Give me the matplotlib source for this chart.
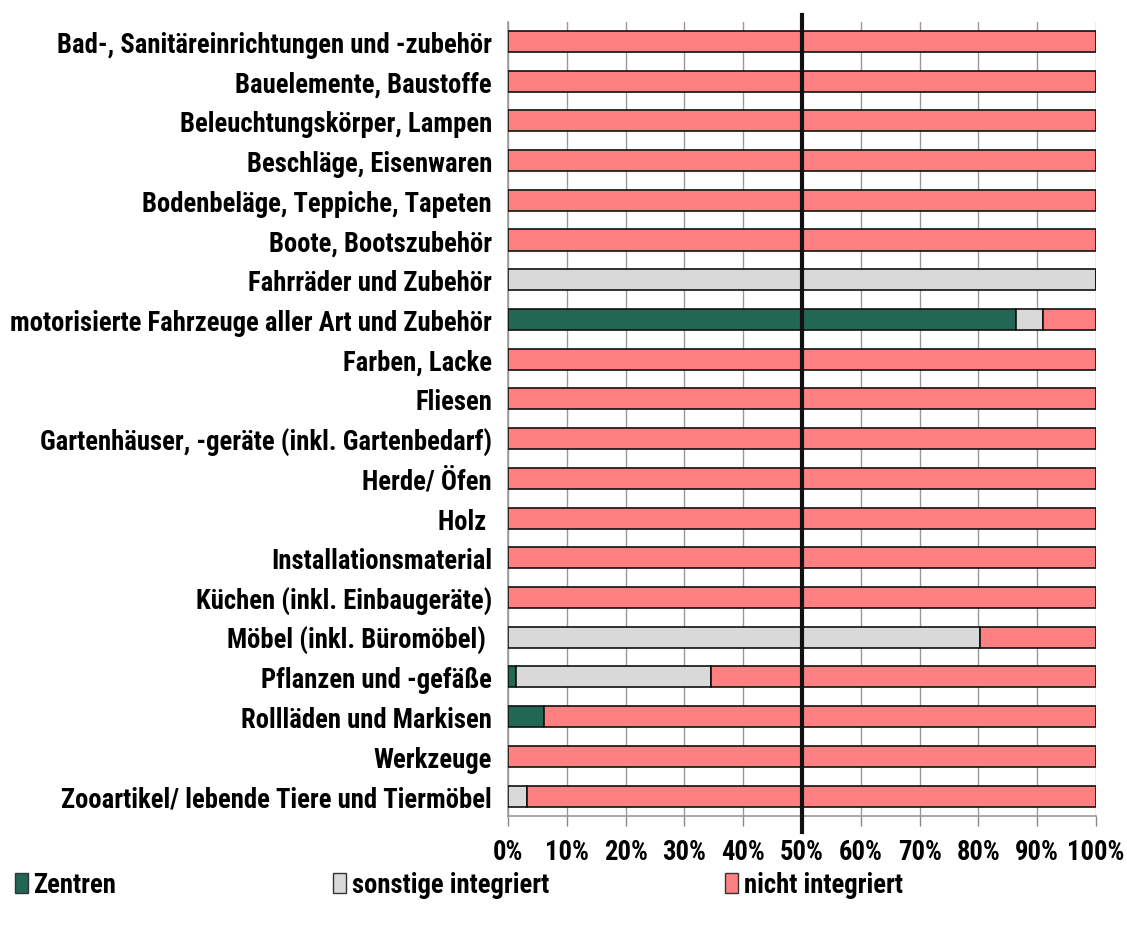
import matplotlib
matplotlib.use("Agg")
import matplotlib.pyplot as plt
import numpy as np
from matplotlib.patches import Patch
from matplotlib import font_manager as fm

# ---------------- data ----------------
categories = [
    "Bad-, Sanitäreinrichtungen und -zubehör",
    "Bauelemente, Baustoffe",
    "Beleuchtungskörper, Lampen",
    "Beschläge, Eisenwaren",
    "Bodenbeläge, Teppiche, Tapeten",
    "Boote, Bootszubehör",
    "Fahrräder und Zubehör",
    "motorisierte Fahrzeuge aller Art und Zubehör",
    "Farben, Lacke",
    "Fliesen",
    "Gartenhäuser, -geräte (inkl. Gartenbedarf)",
    "Herde/ Öfen",
    "Holz ",
    "Installationsmaterial",
    "Küchen (inkl. Einbaugeräte)",
    "Möbel (inkl. Büromöbel) ",
    "Pflanzen und -gefäße",
    "Rollläden und Markisen",
    "Werkzeuge",
    "Zooartikel/ lebende Tiere und Tiermöbel",
]
zentren = [0, 0, 0, 0, 0, 0, 0, 86.4, 0, 0, 0, 0, 0, 0, 0, 0, 1.3, 6.1, 0, 0]
sonstige = [0, 0, 0, 0, 0, 0, 100, 4.6, 0, 0, 0, 0, 0, 0, 0, 80.3, 33.3, 0, 0, 3.3]
nicht = [100 - z - s for z, s in zip(zentren, sonstige)]
series_names = ["Zentren", "sonstige integriert", "nicht integriert"]
colors = ["#216753", "#D9D9D9", "#FF8080"]
xticks = list(range(0, 101, 10))
xticklabels = [f"{t}%" for t in xticks]

# ---------------- font: pick a condensed bold face if available ----------------
def pick_font():
    cands = []
    for f in fm.fontManager.ttflist:
        nm = f.name.lower()
        st = str(f.stretch).lower()
        w = f.weight if isinstance(f.weight, int) else {'bold': 700, 'normal': 400}.get(str(f.weight), 400)
        cond = ('condensed' in st and 'semi' not in st and 'extra' not in st and 'ultra' not in st) \
            or 'narrow' in nm or 'condensed' in nm
        if cond and 600 <= w <= 750 and 'mono' not in nm and 'serif' not in nm.replace('sans', ''):
            pri = 5
            for i, key in enumerate(['liberation sans narrow', 'roboto condensed', 'open sans',
                                     'noto sans', 'dejavu sans']):
                if nm.startswith(key):
                    pri = i
                    break
            cands.append((pri, f.fname))
    if cands:
        cands.sort()
        return fm.FontProperties(fname=cands[0][1])
    return fm.FontProperties(family='DejaVu Sans', weight='bold')

base_fp = pick_font()

fig = plt.figure(figsize=(11.27, 9.29), dpi=100)
renderer = fig.canvas.get_renderer()
probe = fig.text(0, 0, "motorisierte Fahrzeuge aller Art und Zubehör", fontproperties=base_fp, fontsize=16)
w16 = probe.get_window_extent(renderer).width
probe.remove()
fsize = 16 * 480.0 / w16
fp = base_fp.copy()
fp.set_size(fsize)

ax = fig.add_axes([508/1127, 1 - 817/929, 588/1127, (817 - 22.5)/929])

y = np.arange(len(categories))
left = np.zeros(len(categories))
for vals, col, name in zip([zentren, sonstige, nicht], colors, series_names):
    vals = np.array(vals, dtype=float)
    ax.barh(y, vals, left=left, height=0.53, color=col, edgecolor="#111111",
            linewidth=1.2, label=name, zorder=3)
    left += vals

ax.set_ylim(len(categories) - 0.5, -0.5)
ax.set_xlim(0, 100)
ax.set_yticks(y)
ax.set_yticklabels(categories, fontproperties=fp)
ax.set_xticks(xticks)
ax.set_xticklabels(xticklabels, fontproperties=fp)
ax.tick_params(axis='y', length=0, pad=11.5)
ax.tick_params(axis='x', length=7, color='#888888', width=1, pad=9)
ax.grid(axis='x', color='#999999', linewidth=1, zorder=0)
for s in ['top', 'right']:
    ax.spines[s].set_visible(False)
for s in ['left', 'bottom']:
    ax.spines[s].set_color('#999999')
    ax.spines[s].set_linewidth(1.2)
ax.plot([50, 50], [-0.67, 19.9], color='#111111', linewidth=3, zorder=5, clip_on=False)

handles = [Patch(facecolor=c, edgecolor='#333333', linewidth=1) for c in colors]
xs = [15/1127, 333/1127, 725/1127]
for h, name, x in zip(handles, series_names, xs):
    fig.legend([h], [name], loc='center left', bbox_to_anchor=(x, 1 - 886/929),
               frameon=False, handlelength=0.5, handleheight=0.8,
               handletextpad=0.2, borderaxespad=0, borderpad=0, prop=fp)

fig.savefig("out.png", dpi=100)
